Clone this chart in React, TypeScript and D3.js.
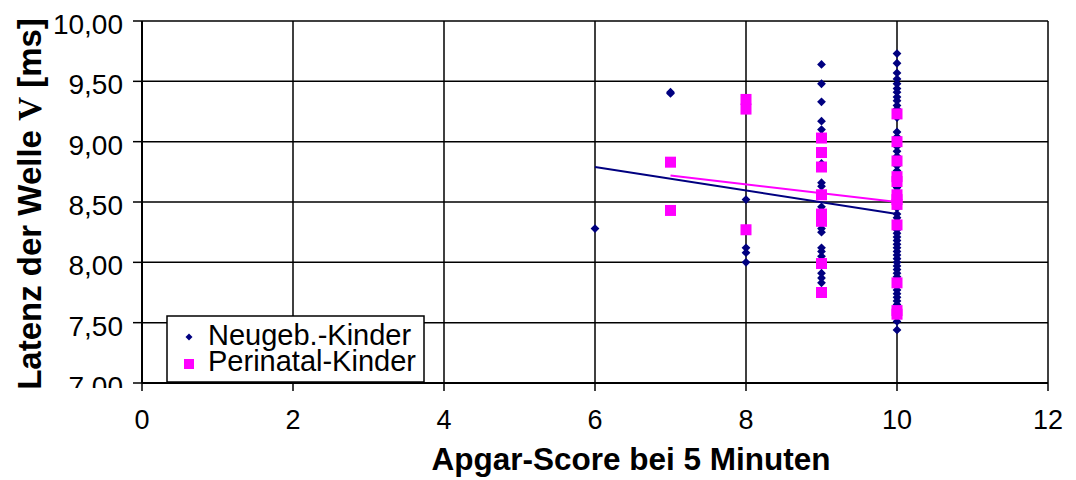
import React from "react";
import * as d3 from "d3";

// Apgar score (x) and wave V latency values (ms) grouped by score
const apgarScores = [6, 7, 8, 9, 10];

const neugebLatency: number[][] = [
  [8.28],
  [9.41, 9.4],
  [8.52, 8.12, 8.08, 8.0],
  [9.64, 9.48, 9.33, 9.17, 9.1, 9.05, 8.82, 8.66, 8.63, 8.46, 8.43, 8.38, 8.28, 8.25, 8.12, 8.09, 8.05, 7.91, 7.87, 7.83],
  [9.73, 9.65, 9.57, 9.52, 9.48, 9.44, 9.41, 9.37, 9.34, 9.3, 9.27, 9.2, 9.08, 9.04, 8.96, 8.92, 8.88, 8.8, 8.76, 8.62, 8.59, 8.45, 8.4, 8.37, 8.34, 8.3, 8.27, 8.24, 8.21, 8.18, 8.15, 8.12, 8.09, 8.06, 8.03, 8.0, 7.97, 7.94, 7.91, 7.88, 7.85, 7.8, 7.77, 7.74, 7.71, 7.68, 7.65, 7.62, 7.59, 7.55, 7.51, 7.44],
];

const perinatalLatency: number[][] = [
  [],
  [8.83, 8.43],
  [9.35, 9.27, 8.27],
  [9.03, 8.91, 8.79, 8.56, 8.4, 8.34, 7.99, 7.75],
  [9.23, 9.0, 8.84, 8.71, 8.67, 8.56, 8.52, 8.48, 8.31, 7.83, 7.6, 7.57],
];

// Linear trend lines: [apgar, latency] endpoints
const neugebTrend: [number, number][] = [[6, 8.79], [10, 8.4]];
const perinatalTrend: [number, number][] = [[7, 8.72], [10, 8.5]];

const xTicks = [0, 2, 4, 6, 8, 10, 12];
const yTicks = [7, 7.5, 8, 8.5, 9, 9.5, 10];

const seriesNames = ["Neugeb.-Kinder", "Perinatal-Kinder"];
const NAVY = "#000080";
const MAGENTA = "#FF00FF";
const FONT = "'Liberation Sans', Arial, sans-serif";

const x = d3.scaleLinear().domain([0, 12]).range([142, 1048]);
const y = d3.scaleLinear().domain([7, 10]).range([383, 21]);

const fmt = (v: number) => d3.format(".2f")(v).replace(".", ",");

const diamond = (cx: number, cy: number, r = 4.4) =>
  `M${cx},${cy - r}L${cx + r},${cy}L${cx},${cy + r}L${cx - r},${cy}Z`;

const line = d3.line<[number, number]>().x((d) => x(d[0])).y((d) => y(d[1]));

export default function App() {
  const [x0, x1] = x.range();
  const [yb, yt] = y.range();
  return (
    <svg
      width={1076}
      height={480}
      style={{ position: "absolute", left: 0, top: 0, background: "#fff" }}
      fontFamily={FONT}
    >
      <defs>
        <clipPath id="ylab-clip">
          <rect x={0} y={0} width={140} height={388} />
        </clipPath>
      </defs>

      {/* grid */}
      {yTicks.slice(1).map((t) => (
        <line key={"gy" + t} x1={x0} x2={x1} y1={y(t)} y2={y(t)} stroke="#000" strokeWidth={1.5} />
      ))}
      {xTicks.slice(1).map((t) => (
        <line key={"gx" + t} x1={x(t)} x2={x(t)} y1={yt} y2={yb} stroke="#000" strokeWidth={1.5} />
      ))}

      {/* axes */}
      <line x1={x0} x2={x0} y1={yt} y2={yb} stroke="#000" strokeWidth={2} />
      <line x1={x0} x2={x1} y1={yb} y2={yb} stroke="#000" strokeWidth={2} />
      {yTicks.map((t) => (
        <line key={"ty" + t} x1={x0 - 9} x2={x0} y1={y(t)} y2={y(t)} stroke="#000" strokeWidth={1.5} />
      ))}
      {xTicks.map((t) => (
        <line key={"tx" + t} x1={x(t)} x2={x(t)} y1={yb} y2={yb + 8} stroke="#000" strokeWidth={1.5} />
      ))}

      {/* tick labels */}
      <g clipPath="url(#ylab-clip)">
        {yTicks.map((t) => (
          <text key={"ly" + t} x={123} y={y(t) + 13} textAnchor="end" fontSize={28} fill="#000">
            {fmt(t)}
          </text>
        ))}
      </g>
      {xTicks.map((t) => (
        <text key={"lx" + t} x={x(t)} y={429} textAnchor="middle" fontSize={27} fill="#000">
          {t}
        </text>
      ))}

      {/* axis titles */}
      <text x={631} y={470} textAnchor="middle" fontSize={31.5} fontWeight="bold" fill="#000">
        Apgar-Score bei 5 Minuten
      </text>
      <text
        transform="translate(41,204) rotate(-90)"
        textAnchor="middle"
        fontSize={33}
        fontWeight="bold"
        fill="#000"
      >
        Latenz der Welle <tspan fontFamily="'Liberation Serif', 'Times New Roman', serif">V</tspan> [ms]
      </text>

      {/* trend lines */}
      <path d={line(neugebTrend) || ""} fill="none" stroke={NAVY} strokeWidth={2} />
      <path d={line(perinatalTrend) || ""} fill="none" stroke={MAGENTA} strokeWidth={2} />

      {/* points */}
      {apgarScores.map((s, i) =>
        neugebLatency[i].map((v, j) => (
          <path key={`n${i}-${j}`} d={diamond(x(s), y(v))} fill={NAVY} />
        ))
      )}
      {apgarScores.map((s, i) =>
        perinatalLatency[i].map((v, j) => (
          <rect key={`p${i}-${j}`} x={x(s) - 5.5} y={y(v) - 5.5} width={11} height={11} fill={MAGENTA} />
        ))
      )}

      {/* legend */}
      <rect x={167} y={316} width={257} height={66} fill="#fff" stroke="#000" strokeWidth={1.5} />
      <path d={diamond(189, 337, 3.5)} fill={NAVY} />
      <rect x={184} y={359} width={10} height={10} fill={MAGENTA} />
      <text x={208} y={345} fontSize={29} fill="#000">{seriesNames[0]}</text>
      <text x={208} y={371} fontSize={29} fill="#000">{seriesNames[1]}</text>
    </svg>
  );
}
